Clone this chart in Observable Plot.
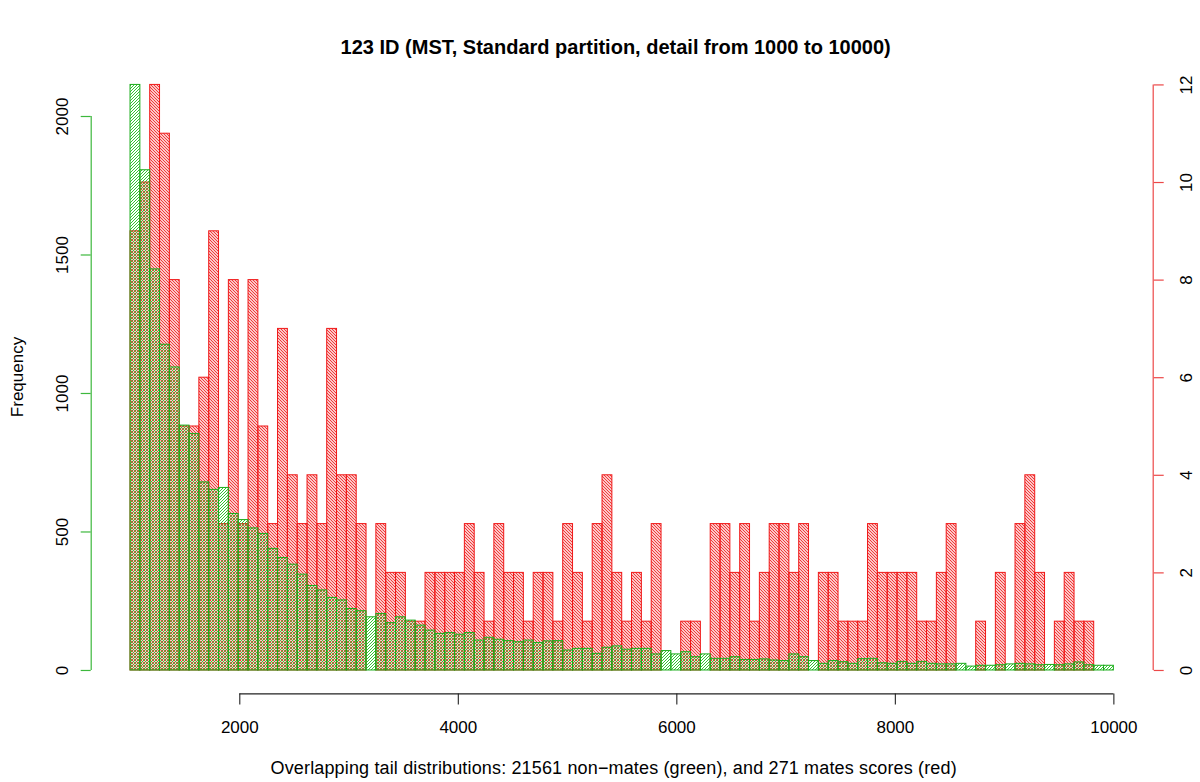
<!DOCTYPE html>
<html>
<head>
<meta charset="utf-8">
<script src="https://cdn.jsdelivr.net/npm/d3@7"></script>
<script src="https://cdn.jsdelivr.net/npm/@observablehq/plot@0.6"></script>
<style>
  body { margin: 0; background: #fff; }
  #wrap { position: relative; width: 1200px; height: 782px; overflow: hidden;
          font-family: "Liberation Sans", Arial, Helvetica, sans-serif; color: #000; }
  #wrap svg.layer { position: absolute; left: 0; top: 0; }
  .lbl { position: absolute; white-space: nowrap; transform: translate(-50%, -50%); line-height: 1; }
</style>
</head>
<body>
<div id="wrap"></div>
<script>
// ---- data (bins of width 90 from 1000 to 10000) ----
const binStart = 1000;
const binWidth = 90;
const nonMates = [
  2114, 1806, 1448, 1176, 1094, 884, 854, 679, 652, 659,
  565, 543, 513, 493, 439, 406, 382, 346, 305, 289,
  262, 253, 222, 214, 192, 204, 171, 192, 180, 162,
  144, 132, 135, 129, 135, 108, 118, 111, 106, 102,
  108, 99, 105, 106, 72, 78, 78, 60, 82, 87,
  75, 78, 78, 58, 70, 58, 66, 48, 58, 42,
  42, 48, 38, 38, 40, 36, 34, 58, 48, 34,
  24, 34, 30, 24, 41, 42, 26, 24, 31, 24,
  31, 24, 22, 22, 24, 14, 17, 17, 19, 22,
  24, 22, 19, 20, 19, 22, 29, 19, 17, 17
];
const mates = [
  9, 10, 12, 11, 8, 5, 5, 6, 9, 3,
  8, 3, 8, 5, 3, 7, 4, 3, 4, 3,
  7, 4, 4, 3, 0, 3, 2, 2, 1, 1,
  2, 2, 2, 2, 3, 2, 1, 3, 2, 2,
  1, 2, 2, 1, 3, 2, 1, 3, 4, 2,
  1, 2, 1, 3, 0, 0, 1, 1, 0, 3,
  3, 2, 3, 1, 2, 3, 3, 2, 3, 0,
  2, 2, 1, 1, 1, 3, 2, 2, 2, 2,
  1, 1, 2, 3, 0, 0, 1, 0, 2, 0,
  3, 4, 2, 0, 1, 2, 1, 1, 0, 0
];
const xTicks = [2000, 4000, 6000, 8000, 10000];
const leftTicks = [0, 500, 1000, 1500, 2000];
const rightTicks = [0, 2, 4, 6, 8, 10, 12];

const titleText = "123 ID (MST, Standard partition, detail from 1000 to 10000)";
const xLabelText = "Overlapping tail distributions: 21561 non\u2212mates (green), and 271 mates scores (red)";
const yLabelText = "Frequency";

// ---- derived table ----
const bins = nonMates.map((g, i) => ({
  x1: binStart + i * binWidth,
  x2: binStart + (i + 1) * binWidth,
  green: g,
  red: mates[i]
}));

const xLo = binStart, xHi = binStart + nonMates.length * binWidth;
const xPad = 0.04 * (xHi - xLo);
const xDomain = [xLo - xPad, xHi + xPad];
const gMax = d3.max(nonMates), rMax = d3.max(mates);
const gDomain = [-0.04 * gMax, 1.04 * gMax];
const rDomain = [-0.04 * rMax, 1.04 * rMax];

const W = 1200, H = 782;
const M = { marginLeft: 90.7, marginRight: 47.3, marginTop: 61, marginBottom: 88.6 };
const FONT = "'Liberation Sans', Arial, Helvetica, sans-serif";
const FS = 17;

const GREEN_HATCH = "#30c830", GREEN_EDGE = "#1aac1a", GREEN_AXIS = "#3db83d";
const RED_HATCH = "#f03030", RED_EDGE = "#f01818", RED_AXIS = "#ec4848";

const baseStyle = { background: "none", fontFamily: FONT, fontSize: FS + "px", color: "#000", overflow: "visible" };

const redPlot = Plot.plot({
  width: W, height: H, ...M,
  x: { domain: xDomain, axis: null, label: null },
  y: { domain: rDomain, axis: null, label: null },
  style: baseStyle,
  marks: [
    Plot.rectY(bins, { x1: "x1", x2: "x2", y1: 0, y2: "red", inset: 0,
      fill: "url(#hatchRed)", stroke: RED_EDGE, strokeWidth: 1 }),
    Plot.ruleX([xDomain[1]], { y1: d3.min(rightTicks), y2: d3.max(rightTicks), stroke: RED_AXIS, strokeWidth: 1.2 }),
    Plot.axisY(rightTicks, { anchor: "right", label: null, tickSize: 10, stroke: RED_AXIS, strokeWidth: 1.2, tickFormat: () => "" }),
    Plot.text(rightTicks, { x: xDomain[1], y: d => d, text: d => String(d), rotate: -90, dx: 33,
      fill: "#000", fontSize: FS, textAnchor: "middle", lineAnchor: "middle" })
  ]
});

const greenPlot = Plot.plot({
  width: W, height: H, ...M,
  x: { domain: xDomain, axis: null, label: null },
  y: { domain: gDomain, axis: null, label: null },
  style: baseStyle,
  marks: [
    Plot.rectY(bins, { x1: "x1", x2: "x2", y1: 0, y2: "green", inset: 0,
      fill: "url(#hatchGreen)", stroke: GREEN_EDGE, strokeWidth: 1 }),
    // left axis
    Plot.ruleX([xDomain[0]], { y1: d3.min(leftTicks), y2: d3.max(leftTicks), stroke: GREEN_AXIS, strokeWidth: 1.2 }),
    Plot.axisY(leftTicks, { anchor: "left", label: null, tickSize: 10, stroke: GREEN_AXIS, strokeWidth: 1.2, tickFormat: () => "" }),
    Plot.text(leftTicks, { x: xDomain[0], y: d => d, text: d => String(d), rotate: -90, dx: -29,
      fill: "#000", fontSize: FS, textAnchor: "middle", lineAnchor: "middle" }),
    // bottom axis
    Plot.ruleY([gDomain[0]], { x1: d3.min(xTicks), x2: d3.max(xTicks), stroke: "#222", strokeWidth: 1.1 }),
    Plot.axisX(xTicks, { anchor: "bottom", label: null, tickSize: 11, stroke: "#222", strokeWidth: 1.1, tickFormat: () => "" }),
    Plot.text(xTicks, { x: d => d, y: gDomain[0], text: d => String(d), dy: 33.5,
      fill: "#000", fontSize: FS, textAnchor: "middle", lineAnchor: "middle" })
  ]
});

// pixel-aligned diagonal hatch tile (no rotation -> no moire)
function addPattern(svg, id, color, dir, tile, lw) {
  const ns = "http://www.w3.org/2000/svg";
  let defs = svg.querySelector("defs");
  if (!defs) { defs = document.createElementNS(ns, "defs"); svg.insertBefore(defs, svg.firstChild); }
  const p = document.createElementNS(ns, "pattern");
  p.setAttribute("id", id);
  p.setAttribute("patternUnits", "userSpaceOnUse");
  p.setAttribute("width", String(tile));
  p.setAttribute("height", String(tile));
  const path = document.createElementNS(ns, "path");
  const t = tile;
  const d = dir === "/"
    ? `M${-t},${t} L${t},${-t} M0,${2 * t} L${2 * t},0 M0,${t} L${t},0`
    : `M0,0 L${t},${t} M${-t},0 L${t},${2 * t} M0,${-t} L${2 * t},${t}`;
  path.setAttribute("d", d);
  path.setAttribute("stroke", color);
  path.setAttribute("stroke-width", String(lw));
  path.setAttribute("fill", "none");
  p.appendChild(path);
  defs.appendChild(p);
}
addPattern(redPlot, "hatchRed", RED_HATCH, "\\", 3, 1.05);
addPattern(greenPlot, "hatchGreen", GREEN_HATCH, "/", 3, 1.0);

// ensure pattern fills are applied to bar rects
d3.select(redPlot).selectAll('g[aria-label="rect"] rect').attr("fill", "url(#hatchRed)");
d3.select(greenPlot).selectAll('g[aria-label="rect"] rect').attr("fill", "url(#hatchGreen)");

redPlot.classList.add("layer");
greenPlot.classList.add("layer");
const wrap = document.getElementById("wrap");
wrap.appendChild(redPlot);
wrap.appendChild(greenPlot);

// text outside the plotting area
const plotCenterX = M.marginLeft + (W - M.marginLeft - M.marginRight) / 2;
const plotCenterY = M.marginTop + (H - M.marginTop - M.marginBottom) / 2;
function addLabel(text, x, y, css) {
  const d = document.createElement("div");
  d.className = "lbl";
  d.textContent = text;
  d.style.left = x + "px";
  d.style.top = y + "px";
  Object.assign(d.style, css || {});
  wrap.appendChild(d);
  return d;
}
addLabel(titleText, plotCenterX - 6, 47, { fontWeight: "bold", fontSize: "20px" });
addLabel(xLabelText, plotCenterX - 8, 768, { fontSize: "18px", letterSpacing: "0.15px" });
addLabel(yLabelText, 17, plotCenterY, { fontSize: FS + "px", transform: "translate(-50%, -50%) rotate(-90deg)" });
</script>
</body>
</html>
